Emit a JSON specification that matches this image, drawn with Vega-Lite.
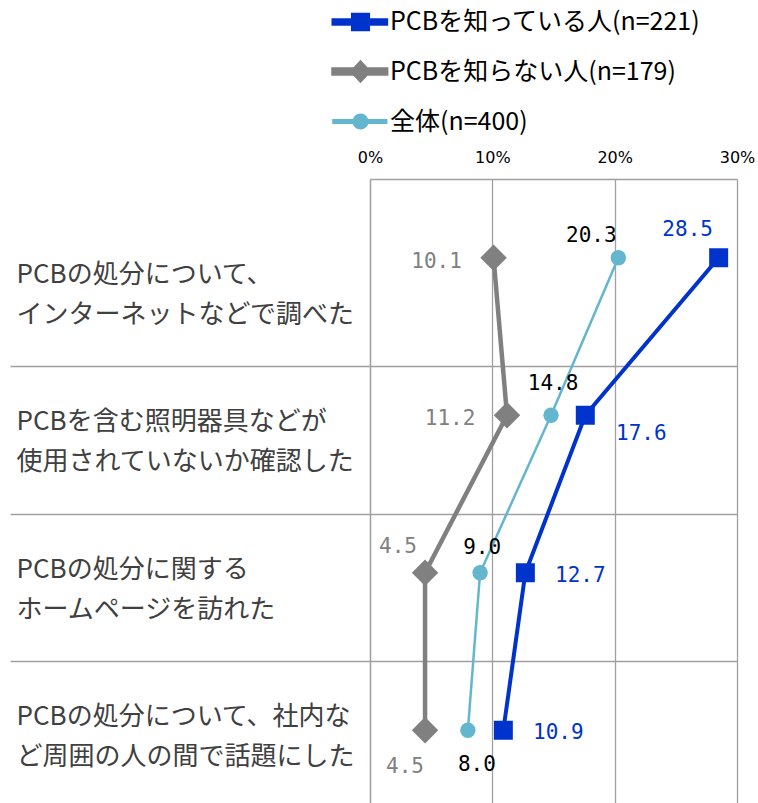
{
  "$schema": "https://vega.github.io/schema/vega-lite/v6.json",
  "width": 367,
  "height": 630,
  "autosize": {"type": "none"},
  "padding": {"left": 370, "top": 179, "right": 21, "bottom": 0},
  "background": "white",
  "config": {"view": {"stroke": null}, "font": "Noto Sans CJK JP"},
  "data": {
    "values": [
      {"cat": "PCBの処分について、\nインターネットなどで調べた", "series": "PCBを知っている人(n=221)", "value": 28.5},
      {"cat": "PCBの処分について、\nインターネットなどで調べた", "series": "PCBを知らない人(n=179)", "value": 10.1},
      {"cat": "PCBの処分について、\nインターネットなどで調べた", "series": "全体(n=400)", "value": 20.3},
      {"cat": "PCBを含む照明器具などが\n使用されていないか確認した", "series": "PCBを知っている人(n=221)", "value": 17.6},
      {"cat": "PCBを含む照明器具などが\n使用されていないか確認した", "series": "PCBを知らない人(n=179)", "value": 11.2},
      {"cat": "PCBを含む照明器具などが\n使用されていないか確認した", "series": "全体(n=400)", "value": 14.8},
      {"cat": "PCBの処分に関する\nホームページを訪れた", "series": "PCBを知っている人(n=221)", "value": 12.7},
      {"cat": "PCBの処分に関する\nホームページを訪れた", "series": "PCBを知らない人(n=179)", "value": 4.5},
      {"cat": "PCBの処分に関する\nホームページを訪れた", "series": "全体(n=400)", "value": 9.0},
      {"cat": "PCBの処分について、社内な\nど周囲の人の間で話題にした", "series": "PCBを知っている人(n=221)", "value": 10.9},
      {"cat": "PCBの処分について、社内な\nど周囲の人の間で話題にした", "series": "PCBを知らない人(n=179)", "value": 4.5},
      {"cat": "PCBの処分について、社内な\nど周囲の人の間で話題にした", "series": "全体(n=400)", "value": 8.0}
    ]
  },
  "encoding": {
    "x": {
      "field": "value",
      "type": "quantitative",
      "scale": {"domain": [0, 30], "nice": false, "zero": true},
      "axis": {
        "orient": "top",
        "values": [0, 10, 20, 30],
        "labelExpr": "datum.value + '%'",
        "title": null,
        "grid": true,
        "gridColor": "#A0A0A0",
        "gridWidth": 1.3,
        "domain": true,
        "domainColor": "#A0A0A0",
        "domainWidth": 1.3,
        "ticks": false,
        "labelPadding": 14,
        "labelFont": "DejaVu Sans",
        "labelFontSize": 16,
        "labelColor": "#000000",
        "labelFlush": false
      }
    }
  },
  "layer": [
    {
      "mark": {"type": "point", "opacity": 0},
      "encoding": {
        "y": {
          "field": "cat",
          "type": "nominal",
          "sort": null,
          "scale": {"type": "band", "paddingInner": 0, "paddingOuter": 0.1356, "align": 1},
          "axis": {
            "orient": "left",
            "title": null,
            "grid": true,
            "gridColor": "#A0A0A0",
            "gridWidth": 1.3,
            "bandPosition": 1,
            "tickExtra": false,
            "ticks": true,
            "tickSize": 360,
            "tickColor": "#A0A0A0",
            "tickWidth": 1.3,
            "domain": true,
            "domainColor": "#A0A0A0",
            "domainWidth": 1.3,
            "labelAlign": "left",
            "labelBaseline": "middle",
            "labelPadding": -6,
            "labelOffset": -18,
            "labelFont": "Noto Sans CJK JP",
            "labelFontSize": 26,
            "labelColor": "#404040",
            "labelLineHeight": 40,
            "labelLimit": 0,
            "labelExpr": "split(datum.label, '\\n')"
          }
        }
      }
    },
    {
      "encoding": {
        "y": {
          "field": "cat",
          "type": "nominal",
          "sort": null,
          "scale": {
            "type": "point",
            "padding": 0.5,
            "domain": [
              "PCBの処分について、\nインターネットなどで調べた",
              "PCBを含む照明器具などが\n使用されていないか確認した",
              "PCBの処分に関する\nホームページを訪れた",
              "PCBの処分について、社内な\nど周囲の人の間で話題にした"
            ]
          },
          "axis": null
        },
        "color": {
          "field": "series",
          "type": "nominal",
          "scale": {
            "domain": ["PCBを知っている人(n=221)", "PCBを知らない人(n=179)", "全体(n=400)"],
            "range": ["#0033CC", "#808080", "#63B6CE"]
          },
          "legend": null
        }
      },
      "layer": [
        {
          "mark": {"type": "point", "filled": true, "opacity": 0},
          "encoding": {
            "color": {
              "field": "series",
              "type": "nominal",
              "legend": {
                "orient": "none",
                "legendX": -39,
                "legendY": -186,
                "title": null,
                "direction": "vertical",
                "padding": 0,
                "symbolSize": 2916,
                "symbolOpacity": 1,
                "symbolStrokeWidth": 0,
                "labelFont": "Noto Sans CJK JP",
                "labelFontSize": 25,
                "labelColor": "#000000",
                "labelOffset": 0,
                "labelLimit": 0,
                "rowPadding": 4
              }
            },
            "shape": {
              "field": "series",
              "type": "nominal",
              "scale": {
                "domain": ["PCBを知っている人(n=221)", "PCBを知らない人(n=179)", "全体(n=400)"],
                "range": [
                  "M-1,-0.065H0.95V0.065H-1Z M-0.28,-0.27H0.28V0.27H-0.28Z",
                  "M-1,-0.07H0.95V0.07H-1Z M0,-0.31L0.29,0L0,0.31L-0.29,0Z",
                  "M-1,-0.05H0.95V0.05H-1Z M-0.25,0A0.25,0.25,0,1,1,0.25,0A0.25,0.25,0,1,1,-0.25,0Z"
                ]
              },
              "legend": {
                "orient": "none",
                "legendX": -39,
                "legendY": -186,
                "title": null,
                "direction": "vertical",
                "padding": 0,
                "symbolSize": 2916,
                "symbolOpacity": 1,
                "symbolStrokeWidth": 0,
                "labelFont": "Noto Sans CJK JP",
                "labelFontSize": 25,
                "labelColor": "#000000",
                "labelOffset": 0,
                "labelLimit": 0,
                "rowPadding": 4
              }
            }
          }
        },
        {
          "mark": {"type": "line"},
          "encoding": {
            "order": {"value": null},
            "strokeWidth": {
              "field": "series",
              "type": "nominal",
              "scale": {
                "type": "ordinal",
                "domain": ["PCBを知っている人(n=221)", "PCBを知らない人(n=179)", "全体(n=400)"],
                "range": [4, 4.5, 2.5]
              },
              "legend": null
            }
          }
        },
        {
          "transform": [{"filter": "indexof(datum.series, '知らない') >= 0"}],
          "mark": {"type": "point", "filled": true, "opacity": 1, "shape": "diamond", "size": 700}
        },
        {
          "transform": [{"filter": "indexof(datum.series, '全体') >= 0"}],
          "mark": {"type": "point", "filled": true, "opacity": 1, "shape": "circle", "size": 236}
        },
        {
          "transform": [{"filter": "indexof(datum.series, '知って') >= 0"}],
          "mark": {"type": "point", "filled": true, "opacity": 1, "shape": "square", "size": 361}
        },
        {
          "transform": [{"filter": "indexof(datum.series, '知って') >= 0 && indexof(datum.cat, 'インターネット') >= 0"}],
          "mark": {"type": "text", "font": "DejaVu Sans Mono", "fontSize": 21, "dx": -31, "dy": -28, "align": "center", "baseline": "middle"},
          "encoding": {"text": {"field": "value", "type": "quantitative", "format": ".1f"}, "color": {"value": "#0033CC"}}
        },
        {
          "transform": [{"filter": "indexof(datum.series, '知って') >= 0 && indexof(datum.cat, '照明') >= 0"}],
          "mark": {"type": "text", "font": "DejaVu Sans Mono", "fontSize": 21, "dx": 56, "dy": 19, "align": "center", "baseline": "middle"},
          "encoding": {"text": {"field": "value", "type": "quantitative", "format": ".1f"}, "color": {"value": "#0033CC"}}
        },
        {
          "transform": [{"filter": "indexof(datum.series, '知って') >= 0 && (indexof(datum.cat, 'ホームページ') >= 0 || indexof(datum.cat, '話題') >= 0)"}],
          "mark": {"type": "text", "font": "DejaVu Sans Mono", "fontSize": 21, "dx": 55, "dy": 3, "align": "center", "baseline": "middle"},
          "encoding": {"text": {"field": "value", "type": "quantitative", "format": ".1f"}, "color": {"value": "#0033CC"}}
        },
        {
          "transform": [{"filter": "indexof(datum.series, '知らない') >= 0 && (indexof(datum.cat, 'インターネット') >= 0 || indexof(datum.cat, '照明') >= 0)"}],
          "mark": {"type": "text", "font": "DejaVu Sans Mono", "fontSize": 21, "dx": -57, "dy": 4, "align": "center", "baseline": "middle"},
          "encoding": {"text": {"field": "value", "type": "quantitative", "format": ".1f"}, "color": {"value": "#808080"}}
        },
        {
          "transform": [{"filter": "indexof(datum.series, '知らない') >= 0 && indexof(datum.cat, 'ホームページ') >= 0"}],
          "mark": {"type": "text", "font": "DejaVu Sans Mono", "fontSize": 21, "dx": -27, "dy": -26, "align": "center", "baseline": "middle"},
          "encoding": {"text": {"field": "value", "type": "quantitative", "format": ".1f"}, "color": {"value": "#808080"}}
        },
        {
          "transform": [{"filter": "indexof(datum.series, '知らない') >= 0 && indexof(datum.cat, '話題') >= 0"}],
          "mark": {"type": "text", "font": "DejaVu Sans Mono", "fontSize": 21, "dx": -20, "dy": 37, "align": "center", "baseline": "middle"},
          "encoding": {"text": {"field": "value", "type": "quantitative", "format": ".1f"}, "color": {"value": "#808080"}}
        },
        {
          "transform": [{"filter": "indexof(datum.series, '全体') >= 0 && indexof(datum.cat, 'インターネット') >= 0"}],
          "mark": {"type": "text", "font": "DejaVu Sans Mono", "fontSize": 21, "dx": -27, "dy": -22, "align": "center", "baseline": "middle"},
          "encoding": {"text": {"field": "value", "type": "quantitative", "format": ".1f"}, "color": {"value": "#000000"}}
        },
        {
          "transform": [{"filter": "indexof(datum.series, '全体') >= 0 && indexof(datum.cat, '照明') >= 0"}],
          "mark": {"type": "text", "font": "DejaVu Sans Mono", "fontSize": 21, "dx": 2, "dy": -31, "align": "center", "baseline": "middle"},
          "encoding": {"text": {"field": "value", "type": "quantitative", "format": ".1f"}, "color": {"value": "#000000"}}
        },
        {
          "transform": [{"filter": "indexof(datum.series, '全体') >= 0 && indexof(datum.cat, 'ホームページ') >= 0"}],
          "mark": {"type": "text", "font": "DejaVu Sans Mono", "fontSize": 21, "dx": 2, "dy": -25, "align": "center", "baseline": "middle"},
          "encoding": {"text": {"field": "value", "type": "quantitative", "format": ".1f"}, "color": {"value": "#000000"}}
        },
        {
          "transform": [{"filter": "indexof(datum.series, '全体') >= 0 && indexof(datum.cat, '話題') >= 0"}],
          "mark": {"type": "text", "font": "DejaVu Sans Mono", "fontSize": 21, "dx": 9, "dy": 35, "align": "center", "baseline": "middle"},
          "encoding": {"text": {"field": "value", "type": "quantitative", "format": ".1f"}, "color": {"value": "#000000"}}
        }
      ]
    }
  ],
  "resolve": {"scale": {"y": "independent"}}
}
